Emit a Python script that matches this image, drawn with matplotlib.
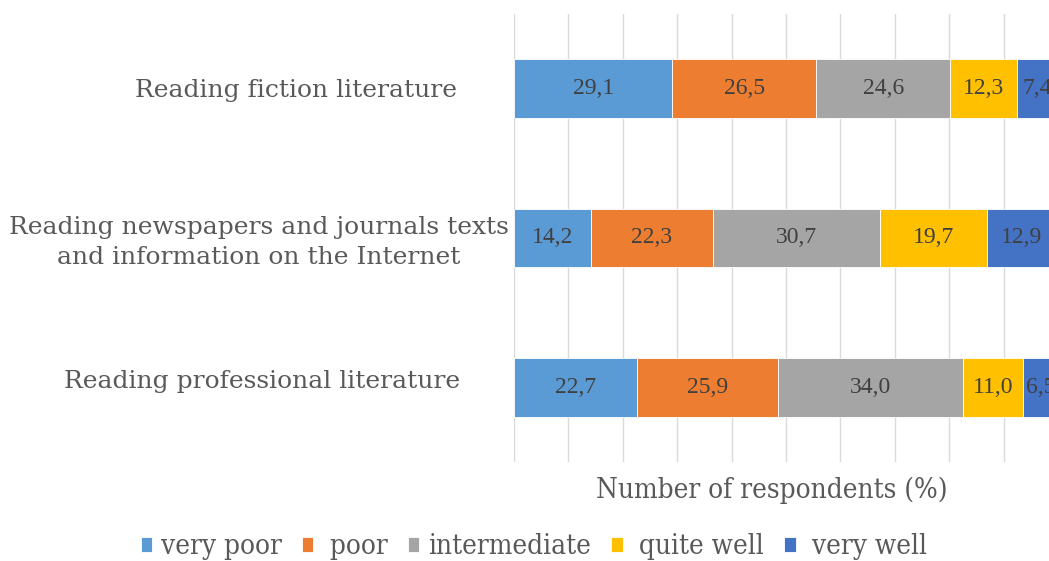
import matplotlib
matplotlib.use("Agg")
import matplotlib.pyplot as plt
from matplotlib.transforms import blended_transform_factory

# data
categories = ["Reading fiction literature",
              "Reading newspapers and journals texts\nand information on the Internet",
              "Reading professional literature"]
levels = ["very poor", " poor", "intermediate", " quite well", " very well"]
very_poor = [29.1, 14.2, 22.7]
poor = [26.5, 22.3, 25.9]
intermediate = [24.6, 30.7, 34.0]
quite_well = [12.3, 19.7, 11.0]
very_well = [7.4, 12.9, 6.5]
colors = ["#5B9BD5", "#ED7D31", "#A5A5A5", "#FFC000", "#4472C4"]
series = [very_poor, poor, intermediate, quite_well, very_well]

W, H = 1049, 561
fig = plt.figure(figsize=(W / 100, H / 100), dpi=100)
ax = fig.add_axes([514 / W, 1 - 462 / H, 544 / W, 448 / H])

ypos = [0, 1, 2]
left = [0, 0, 0]
for vals, col, name in zip(series, colors, levels):
    bars = ax.barh(ypos, vals, left=left, height=0.395, color=col,
                   edgecolor="white", linewidth=0.6, label=name, zorder=3)
    for y, v, l in zip(ypos, vals, left):
        ax.text(l + v / 2, y, f"{v:.1f}".replace(".", ","), ha="center",
                va="center", fontsize=17, color="#404040",
                family="Liberation Serif", zorder=4)
    left = [a + b for a, b in zip(left, vals)]

ax.set_xlim(0, 100)
ax.set_ylim(2.5, -0.5)
ax.set_xticks(range(0, 101, 10))
ax.set_xticklabels([])
ax.set_yticks([])
ax.tick_params(length=0)
ax.grid(axis="x", color="#D9D9D9", linewidth=1, zorder=0)
for s in ax.spines.values():
    s.set_visible(False)

# category labels
tr = blended_transform_factory(fig.transFigure, ax.transData)
label_x = [296, 259, 262]
label_dy = [0.015, 0.03, -0.04]
for c, lx, dy, y in zip(categories, label_x, label_dy, ypos):
    ax.text(lx / W, y + dy, c, transform=tr, ha="center", va="center",
            fontsize=18, color="#595959", family="DejaVu Serif",
            linespacing=1.35)

fig.text(772 / W, 1 - 490 / H, "Number of respondents (%)", ha="center",
         va="center", fontsize=20, color="#595959", family="DejaVu Serif",
         fontstretch="condensed")

leg = fig.legend(loc="center", bbox_to_anchor=(534 / W, 1 - 547 / H), ncol=5,
                 frameon=False, handlelength=0.4, handleheight=0.45,
                 handletextpad=0.3, columnspacing=0.75, borderpad=0,
                 prop={"family": "DejaVu Serif", "size": 20,
                       "stretch": "condensed"})
for t in leg.get_texts():
    t.set_color("#595959")

fig.savefig("out.png", dpi=100)
